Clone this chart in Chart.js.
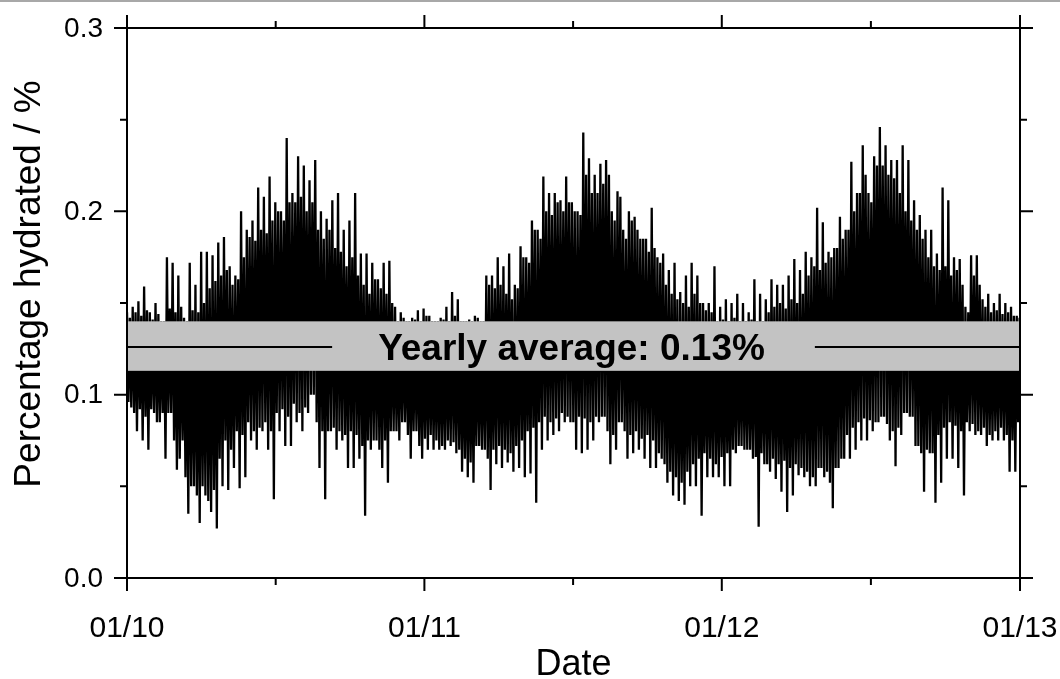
<!DOCTYPE html>
<html>
<head>
<meta charset="utf-8">
<title>Percentage hydrated</title>
<script src="https://cdn.jsdelivr.net/npm/chart.js@4.4.1/dist/chart.umd.min.js"></script>
<style>
  html, body { margin: 0; padding: 0; background: #fff; }
  #wrap { width: 1060px; height: 679px; }
</style>
</head>
<body>
<div id="wrap"><canvas id="hydrated" width="1060" height="679"></canvas></div>
<script>
// x axis runs in days from 01/01/2010 to 01/01/2013
const xMajorDays = [0, 365, 730, 1096];
const xTickLabels = ['01/10', '01/11', '01/12', '01/13'];
const yMajorTicks = [0, 0.1, 0.2, 0.3];

// weekly extremes of the hydrated fraction (%), one value per week from day 0
const weeklyHigh = [
    0.145, 0.148, 0.151, 0.159, 0.145, 0.150, 0.140, 0.175, 0.172, 0.165,
    0.142, 0.172, 0.160, 0.178, 0.178, 0.176, 0.183, 0.186, 0.170, 0.165,
    0.200, 0.190, 0.195, 0.213, 0.208, 0.219, 0.205, 0.200, 0.240, 0.210,
    0.230, 0.225, 0.217, 0.228, 0.200, 0.196, 0.206, 0.210, 0.190, 0.195,
    0.210, 0.177, 0.177, 0.172, 0.163, 0.172, 0.173, 0.148, 0.145, 0.140,
    0.142, 0.146, 0.147, 0.143, 0.140, 0.142, 0.148, 0.156, 0.152, 0.140,
    0.141, 0.143, 0.140, 0.165, 0.165, 0.175, 0.170, 0.177, 0.160, 0.181,
    0.175, 0.195, 0.190, 0.219, 0.210, 0.210, 0.206, 0.219, 0.205, 0.200,
    0.243, 0.229, 0.220, 0.226, 0.228, 0.200, 0.211, 0.190, 0.200, 0.197,
    0.185, 0.185, 0.202, 0.175, 0.177, 0.168, 0.172, 0.156, 0.165, 0.172,
    0.165, 0.150, 0.150, 0.170, 0.148, 0.152, 0.150, 0.155, 0.150, 0.145,
    0.163, 0.155, 0.152, 0.163, 0.160, 0.160, 0.165, 0.174, 0.168, 0.178,
    0.175, 0.202, 0.194, 0.178, 0.180, 0.197, 0.190, 0.227, 0.210, 0.236,
    0.210, 0.230, 0.246, 0.236, 0.228, 0.228, 0.236, 0.228, 0.206, 0.198,
    0.190, 0.190, 0.177, 0.213, 0.206, 0.175, 0.174, 0.148, 0.176, 0.176,
    0.152, 0.155, 0.150, 0.155, 0.150, 0.148, 0.143
];
const weeklyLow = [
    0.093, 0.080, 0.075, 0.070, 0.090, 0.085, 0.065, 0.090, 0.059, 0.075,
    0.035, 0.050, 0.030, 0.045, 0.036, 0.027, 0.050, 0.048, 0.060, 0.049,
    0.055, 0.075, 0.070, 0.080, 0.070, 0.043, 0.080, 0.072, 0.072, 0.085,
    0.080, 0.090, 0.100, 0.060, 0.043, 0.080, 0.070, 0.075, 0.060, 0.060,
    0.065, 0.034, 0.070, 0.075, 0.060, 0.052, 0.080, 0.075, 0.085, 0.065,
    0.080, 0.065, 0.070, 0.070, 0.070, 0.070, 0.072, 0.068, 0.058, 0.055,
    0.052, 0.072, 0.070, 0.048, 0.062, 0.060, 0.063, 0.058, 0.060, 0.055,
    0.057, 0.041, 0.070, 0.075, 0.078, 0.080, 0.085, 0.085, 0.070, 0.068,
    0.070, 0.075, 0.085, 0.088, 0.062, 0.070, 0.085, 0.065, 0.068, 0.070,
    0.065, 0.060, 0.060, 0.065, 0.052, 0.045, 0.042, 0.040, 0.050, 0.050,
    0.034, 0.055, 0.055, 0.055, 0.050, 0.050, 0.068, 0.072, 0.070, 0.065,
    0.028, 0.062, 0.058, 0.054, 0.047, 0.036, 0.045, 0.056, 0.055, 0.050,
    0.050, 0.060, 0.058, 0.038, 0.060, 0.065, 0.065, 0.070, 0.075, 0.075,
    0.080, 0.085, 0.088, 0.075, 0.061, 0.078, 0.090, 0.088, 0.072, 0.047,
    0.068, 0.041, 0.052, 0.065, 0.065, 0.060, 0.045, 0.080, 0.078, 0.078,
    0.072, 0.075, 0.075, 0.075, 0.058, 0.058, 0.085
];

// edges of the dense (solid) part of the trace, same weekly steps
const weeklyInnerHigh = [
    0.142, 0.145, 0.143, 0.146, 0.141, 0.144, 0.140, 0.147, 0.145, 0.148,
    0.140, 0.146, 0.145, 0.150, 0.158, 0.162, 0.165, 0.168, 0.160, 0.163,
    0.175, 0.186, 0.184, 0.190, 0.188, 0.195, 0.200, 0.195, 0.205, 0.205,
    0.208, 0.200, 0.205, 0.190, 0.185, 0.190, 0.180, 0.178, 0.170, 0.175,
    0.165, 0.160, 0.155, 0.163, 0.158, 0.155, 0.150, 0.140, 0.142, 0.140,
    0.141, 0.140, 0.143, 0.140, 0.140, 0.141, 0.140, 0.143, 0.140, 0.140,
    0.140, 0.142, 0.140, 0.160, 0.158, 0.160, 0.155, 0.152, 0.158, 0.175,
    0.172, 0.190, 0.185, 0.200, 0.198, 0.205, 0.200, 0.205, 0.200, 0.198,
    0.220, 0.210, 0.210, 0.215, 0.220, 0.195, 0.208, 0.185, 0.195, 0.190,
    0.185, 0.178, 0.180, 0.172, 0.160, 0.155, 0.152, 0.150, 0.148, 0.155,
    0.150, 0.146, 0.145, 0.140, 0.141, 0.140, 0.142, 0.140, 0.140, 0.141,
    0.140, 0.140, 0.145, 0.148, 0.150, 0.147, 0.152, 0.150, 0.155, 0.165,
    0.170, 0.168, 0.172, 0.175, 0.180, 0.185, 0.190, 0.200, 0.210, 0.220,
    0.205, 0.225, 0.225, 0.220, 0.218, 0.210, 0.200, 0.195, 0.190, 0.185,
    0.175, 0.170, 0.168, 0.170, 0.165, 0.168, 0.160, 0.145, 0.165, 0.160,
    0.148, 0.145, 0.146, 0.144, 0.145, 0.143, 0.142
];
const weeklyInnerLow = [
    0.096, 0.090, 0.092, 0.088, 0.092, 0.085, 0.090, 0.090, 0.075, 0.065,
    0.055, 0.050, 0.045, 0.050, 0.042, 0.048, 0.065, 0.075, 0.070, 0.080,
    0.078, 0.085, 0.080, 0.082, 0.085, 0.080, 0.090, 0.092, 0.088, 0.095,
    0.090, 0.093, 0.100, 0.085, 0.080, 0.080, 0.082, 0.080, 0.078, 0.080,
    0.078, 0.072, 0.075, 0.075, 0.070, 0.075, 0.080, 0.080, 0.085, 0.078,
    0.080, 0.072, 0.076, 0.078, 0.075, 0.072, 0.075, 0.074, 0.070, 0.065,
    0.063, 0.072, 0.070, 0.065, 0.070, 0.072, 0.070, 0.068, 0.072, 0.075,
    0.080, 0.082, 0.085, 0.088, 0.085, 0.087, 0.090, 0.088, 0.085, 0.088,
    0.087, 0.085, 0.088, 0.088, 0.080, 0.078, 0.085, 0.080, 0.078, 0.080,
    0.076, 0.078, 0.075, 0.068, 0.062, 0.058, 0.055, 0.052, 0.058, 0.062,
    0.065, 0.068, 0.065, 0.062, 0.066, 0.068, 0.070, 0.072, 0.070, 0.070,
    0.066, 0.068, 0.062, 0.065, 0.062, 0.064, 0.060, 0.062, 0.060, 0.058,
    0.055, 0.060, 0.055, 0.052, 0.060, 0.065, 0.078, 0.082, 0.085, 0.087,
    0.086, 0.085, 0.088, 0.084, 0.080, 0.082, 0.090, 0.088, 0.072, 0.068,
    0.070, 0.068, 0.078, 0.082, 0.085, 0.083, 0.080, 0.085, 0.084, 0.080,
    0.082, 0.078, 0.080, 0.082, 0.078, 0.075, 0.085
];

const yearlyAverage = 0.126;
const averageBand = [0.113, 0.140];
const totalDays = 1096;

// four samples per week: peak, inner low, inner high, trough
const series = [];
weeklyHigh.forEach((v, i) => {
    const d = i * 7;
    series.push({ x: d, y: v });
    series.push({ x: d + 1.75, y: weeklyInnerLow[i] });
    series.push({ x: d + 3.5, y: weeklyInnerHigh[i] });
    series.push({ x: d + 5.25, y: weeklyLow[i] });
});

const FONT = '"Liberation Sans", Arial, sans-serif';

// frame, ticks (major + minor on all four sides), labels and the average band
const framePlugin = {
    id: 'frame',
    beforeDraw(chart) {
        const c = chart.ctx;
        c.save();
        c.fillStyle = '#a8a8a8';
        c.fillRect(0, 0, chart.width, 2);
        c.restore();
    },
    afterDatasetsDraw(chart) {
        const c = chart.ctx;
        const { left, right } = chart.chartArea;
        const y = chart.scales.y;
        const top = y.getPixelForValue(averageBand[1]);
        const bottom = y.getPixelForValue(averageBand[0]);
        const mid = y.getPixelForValue(yearlyAverage);
        c.save();
        c.fillStyle = '#c3c3c3';
        c.fillRect(left, top, right - left, bottom - top);

        const text = 'Yearly average: ' + yearlyAverage.toFixed(2) + '%';
        c.font = 'bold 37px ' + FONT;
        const w = c.measureText(text).width;
        const cx = (left + right) / 2 - 2;
        c.fillStyle = '#000';
        c.textAlign = 'center';
        c.textBaseline = 'alphabetic';
        c.fillText(text, cx, mid + 13);

        c.strokeStyle = '#000';
        c.lineWidth = 2;
        c.beginPath();
        c.moveTo(left, mid);
        c.lineTo(cx - w / 2 - 46, mid);
        c.moveTo(cx + w / 2 + 50, mid);
        c.lineTo(right, mid);
        c.stroke();
        c.restore();
    },
    afterDraw(chart) {
        const c = chart.ctx;
        const { left, right, top, bottom } = chart.chartArea;
        const xs = chart.scales.x;
        const ys = chart.scales.y;
        const major = 13, minor = 7;
        c.save();
        c.strokeStyle = '#000';
        c.lineWidth = 2;
        c.strokeRect(left, top, right - left, bottom - top);

        c.beginPath();
        const xMinor = [];
        for (let i = 0; i < xMajorDays.length - 1; i++) xMinor.push((xMajorDays[i] + xMajorDays[i + 1]) / 2);
        const yMinor = [];
        for (let i = 0; i < yMajorTicks.length - 1; i++) yMinor.push((yMajorTicks[i] + yMajorTicks[i + 1]) / 2);

        xMajorDays.forEach(d => {
            const px = xs.getPixelForValue(d);
            c.moveTo(px, bottom); c.lineTo(px, bottom + major);
            c.moveTo(px, top); c.lineTo(px, top - major);
        });
        xMinor.forEach(d => {
            const px = xs.getPixelForValue(d);
            c.moveTo(px, bottom); c.lineTo(px, bottom + minor);
            c.moveTo(px, top); c.lineTo(px, top - minor);
        });
        yMajorTicks.forEach(v => {
            const py = ys.getPixelForValue(v);
            c.moveTo(left, py); c.lineTo(left - major, py);
            c.moveTo(right, py); c.lineTo(right + major, py);
        });
        yMinor.forEach(v => {
            const py = ys.getPixelForValue(v);
            c.moveTo(left, py); c.lineTo(left - minor, py);
            c.moveTo(right, py); c.lineTo(right + minor, py);
        });
        c.stroke();

        c.fillStyle = '#000';
        c.font = '28px ' + FONT;
        c.textAlign = 'right';
        c.textBaseline = 'middle';
        yMajorTicks.forEach(v => c.fillText(v.toFixed(1), left - 24, ys.getPixelForValue(v) + 1));
        c.font = '30px ' + FONT;
        c.textAlign = 'center';
        c.textBaseline = 'alphabetic';
        xMajorDays.forEach((d, i) => c.fillText(xTickLabels[i], xs.getPixelForValue(d), bottom + 59));

        c.font = '36px ' + FONT;
        c.fillText('Date', (left + right) / 2, 675);
        c.font = '37px ' + FONT;
        c.translate(40, 284);
        c.rotate(-Math.PI / 2);
        c.fillText('Percentage hydrated / %', 0, 0);
        c.restore();
    }
};

new Chart(document.getElementById('hydrated'), {
    type: 'line',
    data: {
        datasets: [{
            label: 'Percentage hydrated',
            data: series,
            borderColor: '#000',
            borderWidth: 2.3,
            pointRadius: 0,
            tension: 0,
            fill: false
        }]
    },
    options: {
        responsive: false,
        animation: false,
        layout: { padding: { left: 127, right: 40, top: 28, bottom: 101 } },
        plugins: { legend: { display: false }, tooltip: { enabled: false } },
        scales: {
            x: { type: 'linear', min: 0, max: totalDays, display: false },
            y: { type: 'linear', min: 0, max: 0.3, display: false }
        }
    },
    plugins: [framePlugin]
});
</script>
</body>
</html>
